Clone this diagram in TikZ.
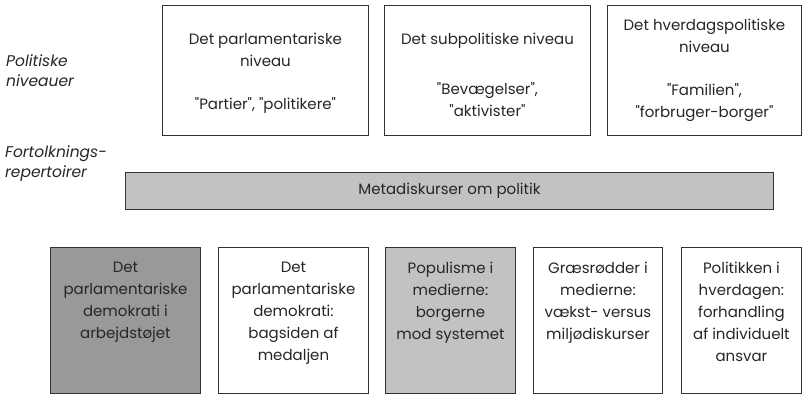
\documentclass[tikz,border=0pt]{standalone}
\usepackage{fontspec}
\setmainfont{Poppins}
\usetikzlibrary{calc}
\newcommand{\qq}[1]{\textquotedbl#1\textquotedbl}
\begin{document}
\begin{tikzpicture}[x=1pt,y=-1pt,
  box/.style={draw=linecol, line width=0.9pt, inner sep=0pt, anchor=north west},
  txt/.style={font=\fontsize{15}{22}\selectfont, align=center, text=textcol, inner sep=0pt},
  lbl/.style={font=\fontsize{15.5}{19.5}\selectfont\itshape, align=left, text=textcol, inner sep=0pt, anchor=north west}]
\definecolor{linecol}{gray}{0.2}
\definecolor{textcol}{gray}{0.15}
\definecolor{darkfill}{gray}{0.6}
\definecolor{lightfill}{gray}{0.76}
\useasboundingbox (0,0) rectangle (803,395);
% labels
\node[lbl] (l1) at (6,55) {Politiske\\niveauer};
\node[lbl] (l2) at (5,146) {Fortolknings-\\repertoirer};
% top boxes
\node[box, minimum width=206pt, minimum height=130pt] (t1) at (162,5) {};
\node[box, minimum width=206pt, minimum height=130pt] (t2) at (384,5) {};
\node[box, minimum width=194pt, minimum height=130pt] (t3) at (607,5) {};
\node[txt, anchor=north] (t1t) at ($(t1.north)+(0,28)$) {Det parlamentariske\\niveau\\[21pt]\qq{Partier}, \qq{politikere}};
\node[txt, anchor=north] (t2t) at ($(t2.north)+(0,28)$) {Det subpolitiske niveau\\[28pt]\qq{Bevægelser},\\\qq{aktivister}};
\node[txt, anchor=north] (t3t) at ($(t3.north)+(0,14)$) {Det hverdagspolitiske\\niveau\\[21pt]\qq{Familien},\\\qq{forbruger-borger}};
% bar
\node[box, fill=lightfill, minimum width=648pt, minimum height=37pt] (bar) at (125,172) {};
\node[txt] (bart) at (bar.center) {Metadiskurser om politik};
% bottom boxes
\node[box, fill=darkfill, minimum width=150pt, minimum height=146pt] (b1) at (50,247) {};
\node[box, minimum width=150pt, minimum height=146pt] (b2) at (218,247) {};
\node[box, fill=lightfill, minimum width=130pt, minimum height=146pt] (b3) at (385,247) {};
\node[box, minimum width=129pt, minimum height=146pt] (b4) at (533,247) {};
\node[box, minimum width=120pt, minimum height=146pt] (b5) at (681,247) {};
\node[txt, anchor=north] (b1t) at ($(b1.north)+(0,15)$) {Det\\parlamentariske\\demokrati i\\arbejdstøjet};
\node[txt, anchor=north] (b2t) at ($(b2.north)+(0,15)$) {Det\\parlamentariske\\demokrati:\\bagsiden af\\medaljen};
\node[txt, anchor=north] (b3t) at ($(b3.north)+(0,15)$) {Populisme i\\medierne:\\borgerne\\mod systemet};
\node[txt, anchor=north] (b4t) at ($(b4.north)+(0,15)$) {Græsrødder i\\medierne:\\vækst- versus\\miljødiskurser};
\node[txt, anchor=north] (b5t) at ($(b5.north)+(0,15)$) {Politikken i\\hverdagen:\\forhandling\\af individuelt\\ansvar};
\end{tikzpicture}
\end{document}
